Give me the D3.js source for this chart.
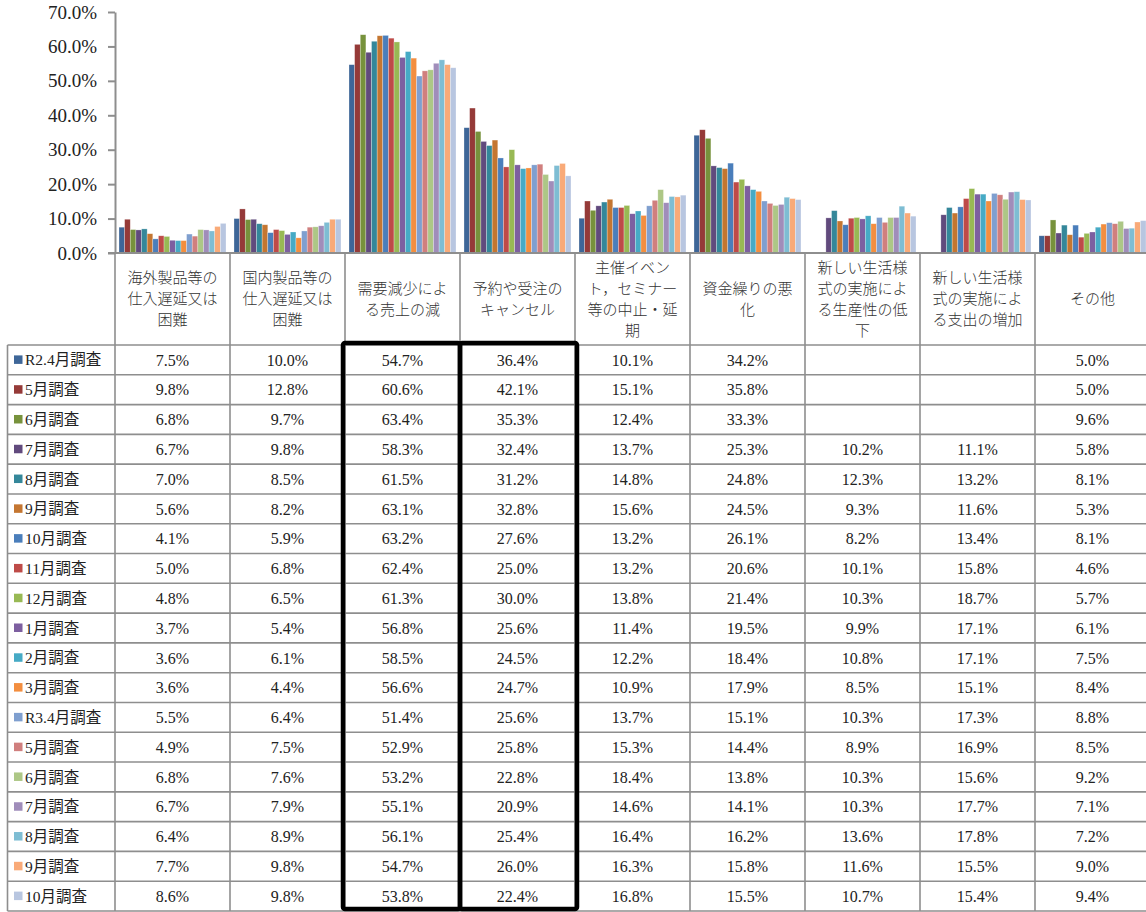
<!DOCTYPE html>
<html><head><meta charset="utf-8">
<script src="https://cdn.jsdelivr.net/npm/d3@7/dist/d3.min.js"></script>
<style>
html,body{margin:0;padding:0;background:#fff;}
svg{display:block;}
</style></head>
<body><svg id="c" width="1146" height="912"></svg>
<script>
// ---- data ----
const categories = [
  ["海外製品等の","仕入遅延又は","困難"],
  ["国内製品等の","仕入遅延又は","困難"],
  ["需要減少によ","る売上の減"],
  ["予約や受注の","キャンセル"],
  ["主催イベン","ト，セミナー","等の中止・延","期"],
  ["資金繰りの悪","化"],
  ["新しい生活様","式の実施によ","る生産性の低","下"],
  ["新しい生活様","式の実施によ","る支出の増加"],
  ["その他"]
];
const seriesNames = ["R2.4月調査","5月調査","6月調査","7月調査","8月調査","9月調査","10月調査","11月調査","12月調査","1月調査","2月調査","3月調査","R3.4月調査","5月調査","6月調査","7月調査","8月調査","9月調査","10月調査"];
const seriesColors = ["#3e6698","#953a38","#77923c","#614a7d","#34879a","#c47631","#4a7ebb","#be4b48","#98b954","#7d5fa0","#46aac5","#f38e3f","#7f9fcf","#d07f7e","#adc786","#a08dba","#7ebdd3","#f9aa78","#b8c6e0"];
const overseas     = [7.5,9.8,6.8,6.7,7.0,5.6,4.1,5.0,4.8,3.7,3.6,3.6,5.5,4.9,6.8,6.7,6.4,7.7,8.6];
const domestic     = [10.0,12.8,9.7,9.8,8.5,8.2,5.9,6.8,6.5,5.4,6.1,4.4,6.4,7.5,7.6,7.9,8.9,9.8,9.8];
const demand       = [54.7,60.6,63.4,58.3,61.5,63.1,63.2,62.4,61.3,56.8,58.5,56.6,51.4,52.9,53.2,55.1,56.1,54.7,53.8];
const cancel       = [36.4,42.1,35.3,32.4,31.2,32.8,27.6,25.0,30.0,25.6,24.5,24.7,25.6,25.8,22.8,20.9,25.4,26.0,22.4];
const events       = [10.1,15.1,12.4,13.7,14.8,15.6,13.2,13.2,13.8,11.4,12.2,10.9,13.7,15.3,18.4,14.6,16.4,16.3,16.8];
const funding      = [34.2,35.8,33.3,25.3,24.8,24.5,26.1,20.6,21.4,19.5,18.4,17.9,15.1,14.4,13.8,14.1,16.2,15.8,15.5];
const productivity = [null,null,null,10.2,12.3,9.3,8.2,10.1,10.3,9.9,10.8,8.5,10.3,8.9,10.3,10.3,13.6,11.6,10.7];
const spending     = [null,null,null,11.1,13.2,11.6,13.4,15.8,18.7,17.1,17.1,15.1,17.3,16.9,15.6,17.7,17.8,15.5,15.4];
const other        = [5.0,5.0,9.6,5.8,8.1,5.3,8.1,4.6,5.7,6.1,7.5,8.4,8.8,8.5,9.2,7.1,7.2,9.0,9.4];
const columns = [overseas,domestic,demand,cancel,events,funding,productivity,spending,other];
const yTicks = [0,10,20,30,40,50,60,70];
const highlighted = [2,3];

// ---- layout ----
const svg = d3.select("#c");
const left = 115, right = 1150, y0px = 253, yTop = 12;
const headerBottom = 345, tableBottom = 911, legendLeft = 7.5;
const gridColor = "#8e8e8e";
const serif = "'Liberation Serif','Noto Sans CJK JP',serif";
const cjk = "'Noto Sans CJK JP','Liberation Serif',sans-serif";

const ci = d3.range(categories.length);
const si = d3.range(seriesNames.length);
const x0 = d3.scaleBand().domain(ci).range([left, right]);
const bw = x0.bandwidth();
const x1 = d3.scaleBand().domain(si).range([4, bw - 4]);
const y = d3.scaleLinear().domain([0,70]).range([y0px, yTop]);
const rowY = d3.scaleBand().domain(si).range([headerBottom, tableBottom]);
const rh = rowY.bandwidth();

// bars
const groups = svg.append("g").selectAll("g").data(ci).join("g")
  .attr("transform", c => `translate(${x0(c)},0)`);
groups.selectAll("rect")
  .data(c => si.map(s => ({s, v: columns[c][s]})).filter(d => d.v != null))
  .join("rect")
  .attr("x", d => x1(d.s))
  .attr("width", x1.bandwidth())
  .attr("y", d => y(d.v))
  .attr("height", d => y(0) - y(d.v))
  .attr("fill", d => seriesColors[d.s])
  .attr("stroke", "rgba(255,255,255,0.45)")
  .attr("stroke-width", 0.6);

// y axis
const yAxis = svg.append("g").attr("transform", `translate(${left},0)`)
  .call(d3.axisLeft(y).tickValues(yTicks).tickFormat(d => d.toFixed(1) + "%").tickSize(7).tickPadding(11).tickSizeOuter(0));
yAxis.select(".domain").attr("stroke", gridColor).attr("stroke-width", 2);
yAxis.selectAll(".tick line").attr("stroke", gridColor).attr("stroke-width", 2);
yAxis.selectAll(".tick text").attr("font-family", serif).attr("font-size", 19).attr("fill", "#222");

// table grid
const grid = svg.append("g").attr("stroke", gridColor).attr("stroke-width", 1.6);
grid.append("line").attr("x1", left - 7).attr("x2", 1146).attr("y1", y0px).attr("y2", y0px).attr("stroke-width", 2);
grid.selectAll(".vl").data(ci).join("line")
  .attr("x1", c => x0(c)).attr("x2", c => x0(c))
  .attr("y1", y0px).attr("y2", tableBottom);
grid.append("line").attr("x1", legendLeft).attr("x2", legendLeft).attr("y1", headerBottom).attr("y2", tableBottom);
grid.selectAll(".hl").data(d3.range(seriesNames.length + 1)).join("line")
  .attr("x1", legendLeft).attr("x2", 1146)
  .attr("y1", i => headerBottom + i * rh).attr("y2", i => headerBottom + i * rh);

// header text
const headerMid = (y0px + headerBottom) / 2;
const lh = 21;
svg.append("g").selectAll("text").data(ci).join("text")
  .attr("font-family", cjk).attr("font-size", 15).attr("font-weight", 300).attr("fill", "#333")
  .attr("text-anchor", "middle")
  .each(function(c) {
    const lines = categories[c];
    const t = d3.select(this);
    lines.forEach((ln, i) => {
      t.append("tspan")
        .attr("x", x0(c) + bw / 2)
        .attr("y", headerMid + (i - (lines.length - 1) / 2) * lh)
        .attr("dy", "0.36em")
        .text(ln);
    });
  });

// legend column
const leg = svg.append("g").selectAll("g").data(si).join("g")
  .attr("transform", s => `translate(0,${rowY(s) + rh / 2})`);
leg.append("rect").attr("x", 14).attr("y", -4.5).attr("width", 8.5).attr("height", 8.5)
  .attr("fill", s => seriesColors[s]);
leg.append("text").attr("x", 25).attr("dy", "0.36em")
  .attr("font-family", serif).attr("font-size", 15.5).attr("fill", "#222")
  .text(s => seriesNames[s]);

// values
const cells = [];
ci.forEach(c => si.forEach(s => { if (columns[c][s] != null) cells.push({c, s, v: columns[c][s]}); }));
svg.append("g").selectAll("text").data(cells).join("text")
  .attr("x", d => x0(d.c) + bw / 2)
  .attr("y", d => rowY(d.s) + rh / 2)
  .attr("dy", "0.36em")
  .attr("text-anchor", "middle")
  .attr("font-family", serif).attr("font-size", 16).attr("fill", "#222")
  .text(d => d.v.toFixed(1) + "%");

// highlight boxes
svg.append("g").selectAll("rect").data(highlighted).join("rect")
  .attr("x", (c, i) => x0(c) + (i === 0 ? -2 : 0))
  .attr("width", bw + 2)
  .attr("y", headerBottom - 2)
  .attr("height", tableBottom - headerBottom)
  .attr("rx", 2)
  .attr("fill", "none").attr("stroke", "#000").attr("stroke-width", 4.5);
</script>
</body></html>
